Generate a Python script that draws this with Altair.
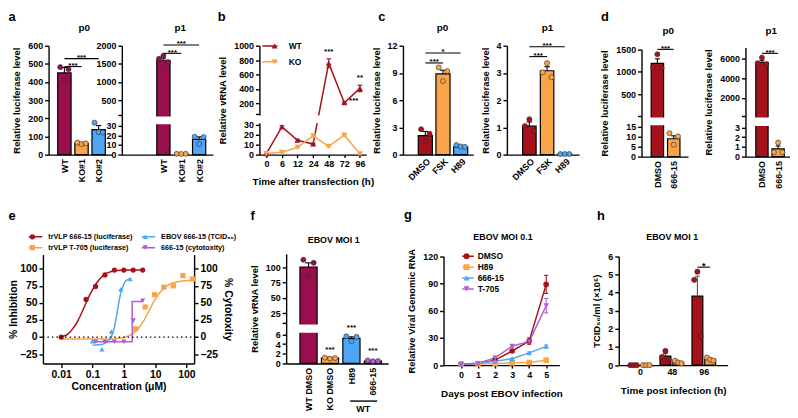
import json
import altair as alt
import pandas as pd

W, H = 790, 410
FONT = "Liberation Sans"
CRIMSON = "#9B0E4E"
RED = "#A5121B"
ORANGE = "#F9A449"
BLUE = "#4FA6F4"
PURPLE = "#B25AD8"
ONE = pd.DataFrame({"k": [0]})

# ---------------- data ----------------
A_CATS = ["WT", "KO#1", "KO#2"]
A_COLORS = [CRIMSON, ORANGE, BLUE]
A0_MEAN = [450, 62, 138]
A0_ERR = [30, 5, 22]
A0_PTS = [[482, 410, 470], [66, 58, 62], [176, 124, 122]]
A0_SIG = [(0, 1, 485, "***"), (0, 2, 529, "***")]
A1_MEAN = [1600, 0.8, 16]
A1_ERR = [60, 0.2, 2.5]
A1_PTS = [[1640, 1720, 1545], [0.8, 0.7, 0.8], [18.6, 11, 18.4]]
A1_SIG = [(0, 1, 1790, "***"), (0, 2, 2020, "***")]

B_TIMES = ["0", "6", "12", "24", "48", "72", "96"]
B_SERIES = ["WT", "KO"]
B_COLORS = [RED, ORANGE]
B_VALUES = [[1, 28, 14.5, 10.7, 756, 205, 405], [1, 2.3, 7.3, 19, 8.3, 19.7, 0.7]]
B_ERR = [[0.4, 1.2, 1.0, 0.8, 60, 12, 45], [0.2, 0.3, 0.5, 0.8, 0.5, 0.8, 0.2]]
B_STARS = [(4, 880, "***"), (5.6, 200, "***"), (6, 520, "**")]

C_CATS = ["DMSO", "FSK", "H89"]
C_COLORS = [RED, ORANGE, BLUE]
C0_MEAN = [2.1, 8.9, 0.85]
C0_ERR = [0.45, 0.4, 0.08]
C0_PTS = [[2.8, 1.5, 2.3], [9.6, 8.1, 9.2], [1.05, 0.9, 0.85]]
C0_SIG = [(0, 1, 10.1, "***"), (0, 2, 11.2, "*")]
C1_MEAN = [1.05, 3.08, 0.02]
C1_ERR = [0.15, 0.15, 0.01]
C1_PTS = [[1.05, 1.3, 0.87], [3.02, 3.36, 2.84], [0.02, 0.02, 0.02]]
C1_SIG = [(0, 1, 3.6, "***"), (0, 2, 3.96, "***")]

D_CATS = ["DMSO", "666-15"]
D_COLORS = [RED, ORANGE]
D0_MEAN = [1190, 9]
D0_ERR = [100, 1.5]
D0_PTS = [[1100, 1390, 1080], [11.8, 6, 10.2]]
D0_SIG = [(0, 1, 1500, "***")]
D1_MEAN = [5600, 0.8]
D1_ERR = [200, 0.3]
D1_PTS = [[5500, 6070, 5400], [0.45, 1.45, 0.45]]
D1_SIG = [(0, 1, 6500, "***")]

E_SERIES = ["trVLP 666-15 (luciferase)", "trVLP T-705 (luciferase)",
            "EBOV 666-15 (TCID\u2085\u2080)", "666-15 (cytotoxity)"]
E_COLORS = [RED, ORANGE, BLUE, PURPLE]
E_SHAPES = ["circle", "square", "triangle-up", "triangle-down"]
E_PX = [[0.01, 0.0625, 0.125, 0.25, 0.5, 1, 2, 4],
        [2.4, 4.8, 9.6, 19, 38, 77, 155],
        [0.1, 0.2, 0.4, 0.8, 1.6],
        [0.125, 0.25, 0.5, 1, 2, 4]]
E_PY = [[0, 55, 74, 91, 98, 98, 98, 98],
        [12, 44, 62, 73, 75, 90, 85],
        [-6, -18, 8, 70, 85],
        [-7, -7, -7, -7, 24, 53]]
E_CX = [[0.01, 0.015, 0.02, 0.03, 0.04, 0.05, 0.065, 0.08, 0.1, 0.13, 0.17, 0.22, 0.3, 0.4, 0.6, 1, 2, 4],
        [0.01, 0.1, 0.5, 1, 2, 3, 4.5, 6.5, 9, 13, 20, 35, 70, 175],
        [0.1, 0.2, 0.3, 0.4, 0.5, 0.6, 0.7, 0.8, 1.0, 1.2, 1.6],
        [0.11, 1.85, 1.85, 4]]
E_CY = [[0, 3, 8, 19, 30, 40, 52, 61, 69, 78, 85, 90, 94, 96, 97.5, 98, 98, 98],
        [-3, -3, -2.5, -1, 5, 13, 25, 39, 52, 63, 73, 79, 82, 83],
        [-12, -11, -7, 0, 14, 34, 52, 65, 78, 83, 86],
        [-7, -7, 52, 52]]

F_CATS = ["WT DMSO", "KO DMSO", "H89", "666-15"]
F_COLORS = [CRIMSON, ORANGE, BLUE, PURPLE]
F_MEAN = [100, 1.1, 5.2, 0.5]
F_ERR = [7, 0.15, 0.3, 0.1]
F_PTS = [[112, 85, 107], [1.2, 1.0, 1.1], [5.6, 4.6, 5.5], [0.6, 0.45, 0.5]]
F_STARS = [(1, 2.7, "***"), (2, 7.8, "***"), (3, 2.5, "***")]

G_DAYS = [0, 1, 2, 3, 4, 5]
G_SERIES = ["DMSO", "H89", "666-15", "T-705"]
G_COLORS = [RED, ORANGE, BLUE, PURPLE]
G_SHAPES = ["circle", "square", "triangle-up", "triangle-down"]
G_VALUES = [[1, 1.5, 5.5, 15.6, 26.5, 89], [1, 1.2, 1.8, 2.5, 2.9, 5.5],
            [1, 2, 4.4, 7, 13.5, 20.7], [1, 2, 8, 21, 26, 65.5]]
G_ERR = [[0.3, 0.3, 0.6, 1.2, 3.5, 10], [0.1, 0.2, 0.2, 0.3, 0.3, 0.5],
         [0.1, 0.2, 0.4, 0.6, 1, 1.5], [0.1, 0.3, 1, 1.5, 2, 8]]

H_TIMES = ["0", "48", "96"]
H_SERIES = ["WT/DMSO", "WT/666-15"]
H_COLORS = [RED, ORANGE]
H_MEAN = [[0, 0.5, 3.8], [0, 0.16, 0.32]]
H_ERR = [[0, 0.14, 1.1], [0, 0.04, 0.05]]
H_PTS = [[[0, 0, 0], [0.45, 0.78, 0.3], [4.7, 5.15, 1.6]],
         [[0, 0, 0], [0.24, 0.14, 0.1], [0.42, 0.3, 0.25]]]
H_SIG = [(1.8, 2.2, 5.4, "*")]


# ---------------- helpers ----------------
def cx(p):
    return round(p - 8, 2)


def cy(p):
    return round(p - 8, 2)


def lin(v1, p1, v2, p2, pa, pb):
    k = (p2 - p1) / (v2 - v1)
    return [round(v1 + (pa - p1) / k, 4), round(v1 + (pb - p1) / k, 4)]


def broken(bv, bp, zp, t1v, t1p, t2v, t2p, gp, tp):
    k = (t2p - t1p) / (t2v - t1v)
    gv = round(t1v + (gp - t1p) / k, 1)
    tv = round(t1v + (tp - t1p) / k, 1)
    dom = [0, bv, gv, tv]
    rng = [cy(zp), cy(bp), cy(gp), cy(tp)]
    gk = (rng[2] - rng[1]) / (gv - bv)
    lo = bv - 1.6 / gk
    hi = gv + 1.6 / gk
    return dom, rng, (round(lo, 3), round(hi, 3)), gv


def S(d, r):
    return alt.Scale(domain=d, range=r, nice=False, zero=False)


def yaxis(x_img, values, title=None, hidden=(), orient="left", **kw):
    args = dict(orient=orient, values=values, title=title, grid=False, format="d")
    args["offset"] = -cx(x_img) if orient == "left" else cx(x_img) - W
    if hidden:
        cond = " || ".join("abs(datum.value - %s) < 0.001" % h for h in hidden)
        args["labelExpr"] = "(%s) ? '' : datum.label" % cond
    args.update(kw)
    return alt.Axis(**args)


def xaxis(y_img, values, title=None, labels=None, **kw):
    args = dict(orient="bottom", offset=cy(y_img) - H, values=values, title=title, grid=False)
    if labels is not None:
        args["labelExpr"] = "%s[round(datum.value)]" % json.dumps(labels)
    args.update(kw)
    return alt.Axis(**args)


def gap_rect(xsc, xax, ysc, yax, xd, xr, gap):
    k = (xr[1] - xr[0]) / (xd[1] - xd[0])
    return alt.Chart(ONE).mark_rect(color="white", opacity=1).encode(
        x=alt.XDatum(xd[0] - 3.0 / k, type="quantitative", scale=xsc, axis=xax),
        x2=alt.X2Datum(xd[1]),
        y=alt.YDatum(gap[0], type="quantitative", scale=ysc, axis=yax),
        y2=alt.Y2Datum(gap[1]))


def line_legend(x_img, y_img, L, dm, pitch, lo, fs, cols=1, colpad=0, blank=False):
    k = round((L / 2.0) / (dm / 2.0), 3)
    args = dict(orient="none", legendX=cx(x_img), legendY=cy(y_img), title=None, padding=0,
                symbolType="M-%s,0H%s" % (k, k), symbolSize=dm * dm, symbolStrokeWidth=1.5,
                labelOpacity=0, clipHeight=pitch, rowPadding=0, labelOffset=lo,
                labelFontSize=fs, columns=cols, columnPadding=colpad, symbolOpacity=1)
    if blank:
        args["labelExpr"] = "''"
    return alt.Legend(**args)


def marker_legend(x_img, y_img, dm, pitch, lo, fs, cols=1, colpad=0, stroke=0):
    return alt.Legend(orient="none", legendX=cx(x_img), legendY=cy(y_img), title=None, padding=0,
                      symbolSize=dm * dm, symbolStrokeWidth=stroke, clipHeight=pitch, rowPadding=0,
                      labelOffset=lo, labelFontSize=fs, columns=cols, columnPadding=colpad,
                      symbolOpacity=1)


def bar_panel(cats, colors, means, errs, pts, xd, xr, yd, yr, xax, yax, hw, jit,
              sig=(), stars=(), gap=None, ptsize=26, star_fs=8):
    xsc, ysc = S(xd, xr), S(yd, yr)
    X = lambda f: alt.X(f, type="quantitative", scale=xsc, axis=xax)
    Y = lambda f: alt.Y(f, type="quantitative", scale=ysc, axis=yax)
    n = len(cats)
    bdf = pd.DataFrame({"i": list(range(n)), "cat": cats, "v": means, "e": errs})
    pdf = pd.DataFrame([{"i": i, "cat": cats[i], "r": r, "v": v}
                        for i in range(n) for r, v in enumerate(pts[i])])
    col = alt.Color("cat:N", scale=alt.Scale(domain=cats, range=colors), legend=None)
    cap = round(hw * 0.4, 3)
    L = []
    L.append(alt.Chart(bdf).transform_calculate(x0="datum.i-%s" % hw, x1="datum.i+%s" % hw)
             .mark_bar(stroke="black", strokeWidth=1.2, orient="vertical")
             .encode(x=X("x0"), x2=alt.X2("x1"), y=Y("v"), color=col))
    L.append(alt.Chart(bdf).transform_calculate(hi="datum.v+datum.e")
             .mark_rule(color="black", strokeWidth=1.1)
             .encode(x=X("i"), y=Y("v"), y2=alt.Y2("hi")))
    L.append(alt.Chart(bdf).transform_calculate(hi="datum.v+datum.e", c0="datum.i-%s" % cap,
                                                c1="datum.i+%s" % cap)
             .mark_rule(color="black", strokeWidth=1.1)
             .encode(x=X("c0"), x2=alt.X2("c1"), y=Y("hi")))
    if gap is not None:
        L.append(gap_rect(xsc, xax, ysc, yax, xd, xr, gap))
    L.append(alt.Chart(pdf).transform_calculate(xj="datum.i+(datum.r-1)*%s" % jit)
             .mark_point(filled=True, size=ptsize, stroke="#2a2a2a", strokeWidth=0.6, opacity=1)
             .encode(x=X("xj"), y=Y("v"), color=col))
    if sig:
        sdf = pd.DataFrame([{"a": a, "b": b, "y": y, "t": t} for a, b, y, t in sig])
        L.append(alt.Chart(sdf).mark_rule(color="black", strokeWidth=1.1)
                 .encode(x=X("a"), x2=alt.X2("b"), y=Y("y")))
        L.append(alt.Chart(sdf).transform_calculate(m="(datum.a+datum.b)/2")
                 .mark_text(font=FONT, fontSize=star_fs, fontWeight="bold", baseline="alphabetic", dy=1.5)
                 .encode(x=X("m"), y=Y("y"), text="t:N"))
    if stars:
        tdf = pd.DataFrame([{"a": a, "y": y, "t": t} for a, y, t in stars])
        L.append(alt.Chart(tdf).mark_text(font=FONT, fontSize=star_fs, fontWeight="bold",
                                          baseline="alphabetic", dy=1.5)
                 .encode(x=X("a"), y=Y("y"), text="t:N"))
    return L, xsc, ysc


def txt(s, x, y, size=9, align="center", baseline="middle", angle=0):
    return alt.Chart(ONE).mark_text(text=s, font=FONT, fontSize=size, fontWeight="bold", align=align,
                                    baseline=baseline, angle=angle, color="black").encode(
        x=alt.value(cx(x)), y=alt.value(cy(y)))


YT = "Relative luciferase level"
rot90 = dict(labelAngle=-90, labelAlign="right", labelBaseline="middle", ticks=False, labelPadding=4)
rot45 = dict(labelAngle=-45, labelAlign="right", labelBaseline="middle", ticks=False, labelPadding=5,
             labelOffset=3)

# ---------------- panel a ----------------
xd, xr = lin(0, 62, 1, 82.5, 49, 113), [cx(49), cx(113)]
La0, _, _ = bar_panel(A_CATS, A_COLORS, A0_MEAN, A0_ERR, A0_PTS, xd, xr, [0, 600], [cy(154), cy(44)],
                      xaxis(154, [0, 1, 2], labels=A_CATS, **rot90),
                      yaxis(49, [0, 100, 200, 300, 400, 500, 600], title=YT, titlePadding=6),
                      hw=0.39, jit=0.24, sig=A0_SIG)
a0 = alt.layer(*La0)

dom, rng, gap, gv = broken(30, 125, 154, 500, 99, 2000, 44, 114, 44)
xd, xr = lin(0, 164.5, 1, 184.75, 123, 215), [cx(123), cx(215)]
La1, _, _ = bar_panel(A_CATS, A_COLORS, A1_MEAN, A1_ERR, A1_PTS, xd, xr, dom, rng,
                      xaxis(154, [0, 1, 2], labels=A_CATS, **rot90),
                      yaxis(123, [0, 10, 20, 30, gv, 500, 1000, 1500, 2000], hidden=[gv]),
                      hw=0.37, jit=0.25, sig=A1_SIG, gap=gap)
a1 = alt.layer(*La1)

# ---------------- panel b ----------------
dom, rng, gap, gv = broken(30, 124, 154, 200, 102, 1000, 44, 113, 44)
xd, xr = lin(0, 269, 6, 363.5, 262, 370), [cx(262), cx(370)]
bx, by = S(xd, xr), S(dom, rng)
bxa = xaxis(154, list(range(7)), labels=B_TIMES, title="Time after transfection (h)", tickSize=3,
            titlePadding=8, titleFontSize=10)
bya = yaxis(262, [0, 10, 20, 30, gv, 200, 400, 600, 800, 1000], hidden=[gv], title="Relative vRNA level",
            titlePadding=6)
BX = lambda f: alt.X(f, type="quantitative", scale=bx, axis=bxa)
BY = lambda f: alt.Y(f, type="quantitative", scale=by, axis=bya)
bdf = pd.DataFrame([{"s": B_SERIES[j], "i": i, "v": B_VALUES[j][i], "e": B_ERR[j][i]}
                    for j in range(2) for i in range(7)])
bcs = alt.Scale(domain=B_SERIES, range=B_COLORS)
b_line = alt.Chart(bdf).mark_line(strokeWidth=1.5).encode(
    x=BX("i"), y=BY("v"), color=alt.Color("s:N", scale=bcs,
                                          legend=line_legend(265, 36.4, 22, 6, 15.7, 10, 8.5, blank=True)))
b_err = alt.Chart(bdf).transform_calculate(lo="datum.v-datum.e", hi="datum.v+datum.e").mark_rule(
    strokeWidth=1.2).encode(x=BX("i"), y=BY("lo"), y2=alt.Y2("hi"),
                            color=alt.Color("s:N", scale=bcs, legend=None))
b_caps = [alt.Chart(bdf).transform_calculate(yy="datum.v%sdatum.e" % sg, c0="datum.i-0.15",
                                             c1="datum.i+0.15").mark_rule(strokeWidth=1.2).encode(
    x=BX("c0"), x2=alt.X2("c1"), y=BY("yy"), color=alt.Color("s:N", scale=bcs, legend=None))
    for sg in "+-"]
bml = marker_legend(273, 36.4, 6, 15.7, 10, 8.5)
b_pts = alt.Chart(bdf).mark_point(filled=True, size=36, opacity=1).encode(
    x=BX("i"), y=BY("v"), color=alt.Color("s:N", scale=bcs, legend=bml),
    shape=alt.Shape("s:N", scale=alt.Scale(domain=B_SERIES, range=["triangle-up", "triangle-down"]),
                    legend=bml))
bsdf = pd.DataFrame([{"a": a, "y": y, "t": t} for a, y, t in B_STARS])
b_st = alt.Chart(bsdf).mark_text(font=FONT, fontSize=8, fontWeight="bold", baseline="alphabetic").encode(
    x=BX("a"), y=BY("y"), text="t:N")
b = alt.layer(b_line, b_err, *b_caps, gap_rect(bx, bxa, by, bya, xd, xr, gap), b_pts, b_st).resolve_legend(
    color="independent", shape="independent")

# ---------------- panel c ----------------
xd, xr = lin(0, 427.5, 1, 448.25, 407, 478), [cx(407), cx(478)]
Lc0, _, _ = bar_panel(C_CATS, C_COLORS, C0_MEAN, C0_ERR, C0_PTS, xd, xr, [0, 12], [cy(154), cy(44)],
                      xaxis(154, [0, 1, 2], labels=C_CATS, **rot45),
                      yaxis(407, [0, 3, 6, 9, 12], title=YT, titlePadding=6),
                      hw=0.4, jit=0.24, sig=C0_SIG)
c0 = alt.layer(*Lc0)
xd, xr = lin(0, 532.5, 1, 553.25, 512, 585), [cx(512), cx(585)]
Lc1, _, _ = bar_panel(C_CATS, C_COLORS, C1_MEAN, C1_ERR, C1_PTS, xd, xr, [0, 4], [cy(154), cy(44)],
                      xaxis(154, [0, 1, 2], labels=C_CATS, **rot45),
                      yaxis(512, [0, 1, 2, 3, 4], title=YT, titlePadding=6),
                      hw=0.38, jit=0.25, sig=C1_SIG)
c1 = alt.layer(*Lc1)

# ---------------- panel d ----------------
dom, rng, gap, gv = broken(15, 126, 156, 500, 93.3, 1500, 47.7, 115, 47.7)
xd, xr = lin(0, 662, 1, 683, 648, 695), [cx(648), cx(695)]
Ld0, _, _ = bar_panel(D_CATS, D_COLORS, D0_MEAN, D0_ERR, D0_PTS, xd, xr, dom, rng,
                      xaxis(156, [0, 1], labels=D_CATS, **rot90),
                      yaxis(648, [0, 5, 10, 15, gv, 500, 1000, 1500], hidden=[gv], title=YT, titlePadding=6),
                      hw=0.38, jit=0.26, sig=D0_SIG, gap=gap)
d0 = alt.layer(*Ld0)
dom, rng, gap, gv = broken(3, 126.7, 156, 2000, 96.7, 6000, 56.7, 115, 45.7)
xd, xr = lin(0, 768, 1, 789, 753, 798), [cx(753), cx(798)]
Ld1, _, _ = bar_panel(D_CATS, D_COLORS, D1_MEAN, D1_ERR, D1_PTS, xd, xr, dom, rng,
                      xaxis(156, [0, 1], labels=D_CATS, **rot90),
                      yaxis(753, [0, 1, 2, 3, gv, 2000, 4000, 6000], hidden=[gv], title=YT, titlePadding=6),
                      hw=0.38, jit=0.26, sig=D1_SIG, gap=gap)
d1 = alt.layer(*Ld1)

# ---------------- panel e ----------------
eyd, eyr = lin(0, 338.3, 100, 269.3, 365, 255), [cy(365), cy(255)]
exd, exr = [0.002624, 175], [cx(43.3), cx(196)]
exs = alt.Scale(type="log", domain=exd, range=exr, nice=False)
eys = S(eyd, eyr)
exa = xaxis(365, [0.01, 0.1, 1, 10, 100], title="Concentration (\u03bcM)", format="~g", labelFontSize=10.5,
            titleFontSize=10.5, titlePadding=2)
eya = yaxis(43.3, [-25, 0, 25, 50, 75, 100], title="% Inhibition", labelFontSize=10.5, titleFontSize=10.5,
            titlePadding=1)
EX = lambda f: alt.X(f, type="quantitative", scale=exs, axis=exa)
EY = lambda f: alt.Y(f, type="quantitative", scale=eys, axis=eya)
ecdf = pd.DataFrame([{"s": E_SERIES[j], "x": x, "y": y, "o": k}
                     for j in range(4) for k, (x, y) in enumerate(zip(E_CX[j], E_CY[j]))])
epdf = pd.DataFrame([{"s": E_SERIES[j], "x": x, "y": y}
                     for j in range(4) for x, y in zip(E_PX[j], E_PY[j])])
ecs = alt.Scale(domain=E_SERIES, range=E_COLORS)
e_line = alt.Chart(ecdf).mark_line(strokeWidth=1.5).encode(
    x=EX("x"), y=EY("y"), order=alt.Order("o:Q"),
    color=alt.Color("s:N", scale=ecs, legend=line_legend(29, 231.5, 20, 5.3, 11, 12.35, 7.3, cols=2,
                                                         colpad=9)))
eml = marker_legend(29, 231.5, 5.3, 11, 12.35, 7.3, cols=2, colpad=9)
e_pts = alt.Chart(epdf).mark_point(filled=True, size=28, opacity=1).encode(
    x=EX("x"), y=EY("y"), color=alt.Color("s:N", scale=ecs, legend=eml),
    shape=alt.Shape("s:N", scale=alt.Scale(domain=E_SERIES, range=E_SHAPES), legend=eml))
e_main = alt.layer(e_line, e_pts).resolve_legend(color="independent", shape="independent")
e_zero = alt.Chart(ONE).mark_rule(color="black", strokeWidth=1.2, strokeDash=[1.5, 3]).encode(
    x=alt.XDatum(exd[0], type="quantitative", scale=exs, axis=None),
    x2=alt.X2Datum(exd[1]),
    y=alt.YDatum(0, type="quantitative", scale=eys,
                 axis=yaxis(196, [-25, 0, 25, 50, 75, 100], orient="right", title="% Cytotoxity",
                            labelFontSize=10.5, titleFontSize=10.5, titlePadding=5)))

# ---------------- panel f ----------------
dom, rng, gap, gv = broken(6, 335.7, 365, 25, 314.3, 100, 267.7, 324, 254.3)
xd, xr = lin(0, 308.5, 1, 332.5, 289, 392), [cx(289), cx(392)]
fxa = xaxis(365, [0, 1, 2, 3], labels=F_CATS, **rot90)
Lf, fxs, fys = bar_panel(F_CATS, F_COLORS, F_MEAN, F_ERR, F_PTS, xd, xr, dom, rng, fxa,
                         yaxis(289, [0, 2, 4, 6, gv, 25, 50, 75, 100], hidden=[gv],
                               title="Relative vRNA level", titlePadding=6),
                         hw=0.4, jit=0.24, stars=F_STARS, gap=gap)
f_br = alt.Chart(ONE).mark_rule(color="black", strokeWidth=1.4).encode(
    x=alt.XDatum(1.94, type="quantitative", scale=fxs, axis=fxa), x2=alt.X2Datum(3.2),
    y=alt.value(cy(403)))
f_wt = alt.Chart(ONE).mark_text(text="WT", font=FONT, fontSize=9, fontWeight="bold", baseline="middle").encode(
    x=alt.XDatum(2.55, type="quantitative", scale=fxs, axis=fxa), y=alt.value(cy(411)))
f = alt.layer(*Lf, f_br, f_wt)

# ---------------- panel g ----------------
gxd, gxr = lin(0, 465.7, 5, 551.7, 448, 565), [cx(448), cx(565)]
gxs, gys = S(gxd, gxr), S([0, 120], [cy(366.7), cy(256.7)])
gxa = xaxis(366.7, G_DAYS, title="Days post EBOV infection", tickSize=3, titlePadding=10, titleFontSize=10)
gya = yaxis(448, [0, 30, 60, 90, 120], title="Relative Viral Genomic RNA", titlePadding=6)
GX = lambda f: alt.X(f, type="quantitative", scale=gxs, axis=gxa)
GY = lambda f: alt.Y(f, type="quantitative", scale=gys, axis=gya)
gdf = pd.DataFrame([{"s": G_SERIES[j], "d": d, "v": G_VALUES[j][i], "e": G_ERR[j][i]}
                    for j in range(4) for i, d in enumerate(G_DAYS)])
gcs = alt.Scale(domain=G_SERIES, range=G_COLORS)
g_line = alt.Chart(gdf).mark_line(strokeWidth=1.5).encode(
    x=GX("d"), y=GY("v"), color=alt.Color("s:N", scale=gcs,
                                          legend=line_legend(467, 251.6, 14.5, 6, 10.2, 7, 8.5, blank=True)))
g_err = alt.Chart(gdf).transform_calculate(lo="datum.v-datum.e", hi="datum.v+datum.e").mark_rule(
    strokeWidth=1.1).encode(x=GX("d"), y=GY("lo"), y2=alt.Y2("hi"),
                            color=alt.Color("s:N", scale=gcs, legend=None))
g_caps = [alt.Chart(gdf).transform_calculate(yy="datum.v%sdatum.e" % sg, c0="datum.d-0.12",
                                             c1="datum.d+0.12").mark_rule(strokeWidth=1.1).encode(
    x=GX("c0"), x2=alt.X2("c1"), y=GY("yy"), color=alt.Color("s:N", scale=gcs, legend=None))
    for sg in "+-"]
gml = marker_legend(467, 251.6, 6, 10.2, 7, 8.5)
g_pts = alt.Chart(gdf).mark_point(filled=True, size=32, opacity=1).encode(
    x=GX("d"), y=GY("v"), color=alt.Color("s:N", scale=gcs, legend=gml),
    shape=alt.Shape("s:N", scale=alt.Scale(domain=G_SERIES, range=G_SHAPES), legend=gml))
g = alt.layer(g_line, g_err, *g_caps, g_pts).resolve_legend(color="independent", shape="independent")

# ---------------- panel h ----------------
hxd, hxr = lin(0, 643, 1, 678.5, 625, 735), [cx(625), cx(735)]
hxs, hys = S(hxd, hxr), S([0, 6], [cy(366.7), cy(256.7)])
hxa = xaxis(366.7, [0, 1, 2], labels=H_TIMES, title="Time post infection (h)", ticks=False, titlePadding=10,
            titleFontSize=10)
hya = yaxis(625, [0, 1, 2, 3, 4, 5, 6], title="TCID\u2085\u2080/ml (\u00d710\u2076)", titlePadding=6)
HX = lambda f: alt.X(f, type="quantitative", scale=hxs, axis=hxa)
HY = lambda f: alt.Y(f, type="quantitative", scale=hys, axis=hya)
hbdf = pd.DataFrame([{"s": H_SERIES[j], "i": i, "o": 2 * j - 1, "v": H_MEAN[j][i], "e": H_ERR[j][i]}
                     for j in range(2) for i in range(3)])
hpdf = pd.DataFrame([{"s": H_SERIES[j], "i": i, "o": 2 * j - 1, "r": r, "v": v}
                     for j in range(2) for i in range(3) for r, v in enumerate(H_PTS[j][i])])
hcs = alt.Scale(domain=H_SERIES, range=H_COLORS)
h_bar = alt.Chart(hbdf).transform_calculate(x0="datum.i+datum.o*0.2-0.17", x1="datum.i+datum.o*0.2+0.17").mark_bar(
    stroke="black", strokeWidth=1.2, orient="vertical").encode(
    x=HX("x0"), x2=alt.X2("x1"), y=HY("v"), color=alt.Color("s:N", scale=hcs, legend=None))
h_err = alt.Chart(hbdf).transform_filter("datum.e > 0").transform_calculate(
    xc="datum.i+datum.o*0.2", hi="datum.v+datum.e", c0="datum.i+datum.o*0.2-0.07",
    c1="datum.i+datum.o*0.2+0.07")
h_e1 = h_err.mark_rule(color="#555555", strokeWidth=1.1).encode(x=HX("xc"), y=HY("v"), y2=alt.Y2("hi"))
h_e2 = h_err.mark_rule(color="#555555", strokeWidth=1.1).encode(x=HX("c0"), x2=alt.X2("c1"), y=HY("hi"))
hml = marker_legend(627.25, 248.3, 5.5, 10, 12.25, 7.8, stroke=0.6)
h_pts = alt.Chart(hpdf).transform_calculate(xj="datum.i+datum.o*0.2+(datum.r-1)*0.1").mark_point(
    filled=True, size=28, stroke="#2a2a2a", strokeWidth=0.6, opacity=1).encode(
    x=HX("xj"), y=HY("v"), color=alt.Color("s:N", scale=hcs, legend=hml))
hsdf = pd.DataFrame([{"a": a, "b": bb, "y": y, "t": t} for a, bb, y, t in H_SIG])
h_sr = alt.Chart(hsdf).mark_rule(color="black", strokeWidth=1.1).encode(x=HX("a"), x2=alt.X2("b"), y=HY("y"))
h_st = alt.Chart(hsdf).transform_calculate(m="(datum.a+datum.b)/2").mark_text(
    font=FONT, fontSize=9, fontWeight="bold", baseline="alphabetic", dy=2).encode(
    x=HX("m"), y=HY("y"), text="t:N")
h = alt.layer(h_bar, h_e1, h_e2, h_pts, h_sr, h_st)

# ---------------- text ----------------
texts = [
    txt("a", 8.5, 19, 13, align="left", baseline="alphabetic"),
    txt("b", 220, 19, 13, align="left", baseline="alphabetic"),
    txt("c", 382, 19, 13, align="left", baseline="alphabetic"),
    txt("d", 607, 19, 13, align="left", baseline="alphabetic"),
    txt("e", 8.5, 220, 13, align="left", baseline="alphabetic"),
    txt("f", 253, 220, 13, align="left", baseline="alphabetic"),
    txt("g", 408, 219, 13, align="left", baseline="alphabetic"),
    txt("h", 603, 220, 13, align="left", baseline="alphabetic"),
    txt("p0", 85, 26, 10),
    txt("p1", 182, 26, 10),
    txt("p0", 447, 26, 10),
    txt("p1", 553, 26, 10),
    txt("p0", 675, 29, 10),
    txt("p1", 779, 29, 10),
    txt("EBOV MOI 1", 337, 240, 9),
    txt("EBOV MOI 0.1", 508, 237, 9),
    txt("EBOV MOI 1", 679, 237, 9),
]

chart = alt.layer(a0, a1, b, c0, c1, d0, d1, e_main, e_zero, f, g, h, *texts).resolve_scale(
    x="independent", y="independent", color="independent", shape="independent"
).resolve_axis(x="independent", y="independent").properties(
    width=W, height=H, padding=0, autosize=alt.AutoSizeParams(type="none")
).configure_view(stroke=None).configure_axis(
    domainColor="black", domainWidth=1.4, tickColor="black", tickWidth=1.4, tickSize=4,
    labelFont=FONT, labelFontWeight="bold", labelFontSize=9, labelColor="black", labelPadding=2,
    labelOverlap=False, labelFlush=False, labelBound=False,
    titleFont=FONT, titleFontWeight="bold", titleFontSize=9.5, titleColor="black", grid=False
).configure_legend(labelFont=FONT, labelFontWeight="bold", labelColor="black")

chart.save("out.html", embed_options={"renderer": "svg", "actions": False})
